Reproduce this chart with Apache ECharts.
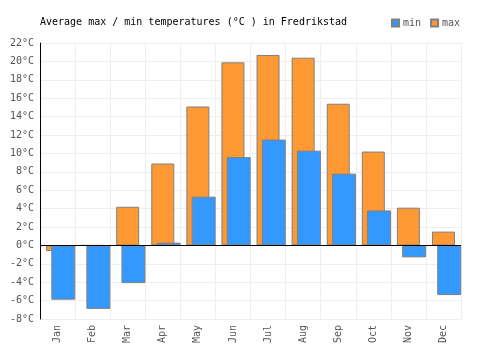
<!DOCTYPE html>
<html>
<head>
<meta charset="utf-8">
<script src="https://cdn.jsdelivr.net/npm/echarts@6/dist/echarts.min.js"></script>
<style>
  html, body { margin: 0; padding: 0; background: #fff; }
  #chart { width: 500px; height: 350px; }
</style>
</head>
<body>
<div id="chart"></div>
<script>
const months = ["Jan", "Feb", "Mar", "Apr", "May", "Jun", "Jul", "Aug", "Sep", "Oct", "Nov", "Dec"];
const minTemps = [-5.9, -6.9, -4.1, 0.3, 5.3, 9.6, 11.5, 10.3, 7.8, 3.8, -1.3, -5.4];
const maxTemps = [-0.6, 0, 4.2, 8.9, 15.1, 19.9, 20.7, 20.4, 15.4, 10.2, 4.1, 1.5];
const emptySlot = months.map(() => null);

const font = "DejaVu Sans Mono";
const barBorder = { borderColor: "#808080", borderWidth: 1 };

const chart = echarts.init(document.getElementById("chart"), null, { renderer: "canvas" });

chart.setOption({
  animation: false,
  title: {
    text: "Average max / min temperatures (°C ) in Fredrikstad",
    left: 40,
    top: 17,
    padding: 0,
    textStyle: { fontFamily: font, fontSize: 10, fontWeight: "normal", color: "#000" },
  },
  legend: {
    data: ["min", "max"],
    left: 391,
    top: 18,
    padding: 0,
    itemWidth: 7,
    itemHeight: 7,
    itemGap: 9,
    icon: "rect",
    textStyle: { fontFamily: font, fontSize: 10, color: "#555", padding: [0, 0, 0, -1] },
  },
  grid: { left: 40, right: 39, top: 43, bottom: 31 },
  xAxis: [
    {
      type: "category",
      data: months,
      axisLine: { show: false },
      axisTick: { show: false },
      splitLine: { show: true, interval: 0, lineStyle: { color: "#eeeeee" } },
      axisLabel: { rotate: 90, margin: 6, interval: 0, fontFamily: font, fontSize: 10, color: "#555" },
    },
    { type: "category", data: months, show: false },
  ],
  yAxis: {
    type: "value",
    min: -8,
    max: 22,
    interval: 2,
    axisLine: { show: true, lineStyle: { color: "#000" } },
    axisTick: { show: false },
    splitLine: { lineStyle: { color: "#eeeeee" } },
    axisLabel: { formatter: "{value}°C", margin: 6, fontFamily: font, fontSize: 10, color: "#555" },
  },
  series: [
    {
      name: "max",
      type: "bar",
      xAxisIndex: 0,
      data: maxTemps,
      barWidth: 23,
      z: 2,
      itemStyle: { color: "#ff9933", ...barBorder },
    },
    {
      name: "",
      type: "bar",
      xAxisIndex: 1,
      data: emptySlot,
      barWidth: 24,
      barGap: "-52%",
    },
    {
      name: "min",
      type: "bar",
      xAxisIndex: 1,
      data: minTemps,
      barWidth: 24,
      barGap: "-52%",
      z: 3,
      itemStyle: { color: "#3399ff", ...barBorder },
      markLine: {
        silent: true,
        symbol: "none",
        z: 5,
        label: { show: false },
        lineStyle: { color: "#000", width: 1, type: "solid" },
        data: [{ yAxis: 0 }],
      },
    },
  ],
});
</script>
</body>
</html>
